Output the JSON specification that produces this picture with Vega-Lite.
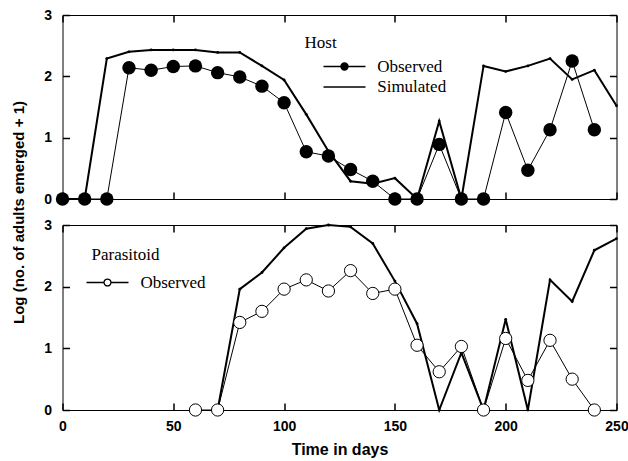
{
  "$schema": "https://vega.github.io/schema/vega-lite/v6.json",
  "background": "white",
  "padding": {"left": 10.5, "top": 7, "right": 8, "bottom": 4},
  "spacing": 26,
  "bounds": "flush",
  "resolve": {"scale": {"shape": "independent"}, "legend": {"shape": "independent"}},
  "datasets": {
    "host": [
      {"day": 0, "value": 0, "series": "Observed"},
      {"day": 10, "value": 0, "series": "Observed"},
      {"day": 20, "value": 0, "series": "Observed"},
      {"day": 30, "value": 2.14, "series": "Observed"},
      {"day": 40, "value": 2.10, "series": "Observed"},
      {"day": 50, "value": 2.16, "series": "Observed"},
      {"day": 60, "value": 2.17, "series": "Observed"},
      {"day": 70, "value": 2.06, "series": "Observed"},
      {"day": 80, "value": 1.99, "series": "Observed"},
      {"day": 90, "value": 1.84, "series": "Observed"},
      {"day": 100, "value": 1.57, "series": "Observed"},
      {"day": 110, "value": 0.77, "series": "Observed"},
      {"day": 120, "value": 0.70, "series": "Observed"},
      {"day": 130, "value": 0.48, "series": "Observed"},
      {"day": 140, "value": 0.29, "series": "Observed"},
      {"day": 150, "value": 0, "series": "Observed"},
      {"day": 160, "value": 0, "series": "Observed"},
      {"day": 170, "value": 0.89, "series": "Observed"},
      {"day": 180, "value": 0, "series": "Observed"},
      {"day": 190, "value": 0, "series": "Observed"},
      {"day": 200, "value": 1.41, "series": "Observed"},
      {"day": 210, "value": 0.47, "series": "Observed"},
      {"day": 220, "value": 1.13, "series": "Observed"},
      {"day": 230, "value": 2.25, "series": "Observed"},
      {"day": 240, "value": 1.13, "series": "Observed"},
      {"day": 0, "value": 0, "series": "Simulated"},
      {"day": 10, "value": 0, "series": "Simulated"},
      {"day": 20, "value": 2.29, "series": "Simulated"},
      {"day": 30, "value": 2.40, "series": "Simulated"},
      {"day": 40, "value": 2.43, "series": "Simulated"},
      {"day": 50, "value": 2.43, "series": "Simulated"},
      {"day": 60, "value": 2.43, "series": "Simulated"},
      {"day": 70, "value": 2.39, "series": "Simulated"},
      {"day": 80, "value": 2.39, "series": "Simulated"},
      {"day": 90, "value": 2.17, "series": "Simulated"},
      {"day": 100, "value": 1.94, "series": "Simulated"},
      {"day": 110, "value": 1.38, "series": "Simulated"},
      {"day": 120, "value": 0.78, "series": "Simulated"},
      {"day": 130, "value": 0.29, "series": "Simulated"},
      {"day": 140, "value": 0.25, "series": "Simulated"},
      {"day": 150, "value": 0.34, "series": "Simulated"},
      {"day": 160, "value": 0, "series": "Simulated"},
      {"day": 170, "value": 1.27, "series": "Simulated"},
      {"day": 180, "value": 0, "series": "Simulated"},
      {"day": 190, "value": 2.17, "series": "Simulated"},
      {"day": 200, "value": 2.08, "series": "Simulated"},
      {"day": 210, "value": 2.17, "series": "Simulated"},
      {"day": 220, "value": 2.29, "series": "Simulated"},
      {"day": 230, "value": 1.95, "series": "Simulated"},
      {"day": 240, "value": 2.10, "series": "Simulated"},
      {"day": 250, "value": 1.52, "series": "Simulated"}
    ],
    "para": [
      {"day": 60, "value": 0, "series": "Observed"},
      {"day": 70, "value": 0, "series": "Observed"},
      {"day": 80, "value": 1.42, "series": "Observed"},
      {"day": 90, "value": 1.60, "series": "Observed"},
      {"day": 100, "value": 1.96, "series": "Observed"},
      {"day": 110, "value": 2.11, "series": "Observed"},
      {"day": 120, "value": 1.93, "series": "Observed"},
      {"day": 130, "value": 2.26, "series": "Observed"},
      {"day": 140, "value": 1.89, "series": "Observed"},
      {"day": 150, "value": 1.96, "series": "Observed"},
      {"day": 160, "value": 1.05, "series": "Observed"},
      {"day": 170, "value": 0.62, "series": "Observed"},
      {"day": 180, "value": 1.03, "series": "Observed"},
      {"day": 190, "value": 0, "series": "Observed"},
      {"day": 200, "value": 1.16, "series": "Observed"},
      {"day": 210, "value": 0.48, "series": "Observed"},
      {"day": 220, "value": 1.13, "series": "Observed"},
      {"day": 230, "value": 0.50, "series": "Observed"},
      {"day": 240, "value": 0, "series": "Observed"},
      {"day": 70, "value": 0, "series": "Simulated"},
      {"day": 80, "value": 1.96, "series": "Simulated"},
      {"day": 90, "value": 2.23, "series": "Simulated"},
      {"day": 100, "value": 2.63, "series": "Simulated"},
      {"day": 110, "value": 2.94, "series": "Simulated"},
      {"day": 120, "value": 3.0, "series": "Simulated"},
      {"day": 130, "value": 2.97, "series": "Simulated"},
      {"day": 140, "value": 2.70, "series": "Simulated"},
      {"day": 150, "value": 2.09, "series": "Simulated"},
      {"day": 160, "value": 1.40, "series": "Simulated"},
      {"day": 170, "value": 0, "series": "Simulated"},
      {"day": 180, "value": 0.93, "series": "Simulated"},
      {"day": 190, "value": 0, "series": "Simulated"},
      {"day": 200, "value": 1.47, "series": "Simulated"},
      {"day": 210, "value": 0, "series": "Simulated"},
      {"day": 220, "value": 2.11, "series": "Simulated"},
      {"day": 230, "value": 1.76, "series": "Simulated"},
      {"day": 240, "value": 2.59, "series": "Simulated"},
      {"day": 250, "value": 2.78, "series": "Simulated"}
    ]
  },
  "config": {
    "view": {"stroke": "black", "strokeWidth": 1},
    "axis": {
      "domain": false,
      "grid": false,
      "ticks": true,
      "tickSize": 7,
      "tickColor": "#000000",
      "tickWidth": 1.5,
      "tickOpacity": 1,
      "labelFont": "Liberation Sans",
      "labelFontWeight": "bold",
      "labelFontSize": 14,
      "labelColor": "black",
      "titleFont": "Liberation Sans",
      "titleFontWeight": "bold",
      "titleFontSize": 15,
      "titleColor": "black",
      "labelFlush": false,
      "labelOverlap": false
    },
    "legend": {
      "labelFont": "Liberation Serif",
      "labelFontSize": 17,
      "labelColor": "black",
      "titleFont": "Liberation Serif",
      "titleFontSize": 17,
      "titleFontWeight": "normal",
      "titleColor": "black",
      "padding": 0,
      "symbolSize": 441,
      "symbolOpacity": 1,
      "symbolStrokeColor": "black",
      "symbolStrokeWidth": 1.3
    }
  },
  "vconcat": [
    {
      "width": 554,
      "height": 184,
      "data": {"name": "host"},
      "layer": [
        {
          "transform": [{"filter": "datum.series === 'Simulated'"}],
          "mark": {"type": "line", "color": "black", "strokeWidth": 2, "clip": false, "point": {"filled": true, "size": 8, "color": "black", "opacity": 1}},
          "encoding": {
            "x": {"field": "day", "type": "quantitative", "scale": {"domain": [0, 250], "nice": false, "zero": false},
                  "axis": {"values": [0, 50, 100, 150, 200, 250], "labels": false, "title": null, "offset": -7}},
            "y": {"field": "value", "type": "quantitative", "scale": {"domain": [0, 3], "nice": false},
                  "axis": {"values": [0, 1, 2, 3], "labelPadding": 11, "title": "Log (no. of adults emerged + 1)", "titleY": 197, "titlePadding": 17.5, "offset": -7}}
          }
        },
        {
          "transform": [{"filter": "datum.series === 'Observed'"}],
          "mark": {"type": "line", "color": "black", "strokeWidth": 1, "clip": false},
          "encoding": {
            "x": {"field": "day", "type": "quantitative", "axis": {"orient": "top", "values": [0, 50, 100, 150, 200, 250], "labels": false, "title": null, "offset": -7}},
            "y": {"field": "value", "type": "quantitative", "axis": {"orient": "right", "values": [0, 1, 2, 3], "labels": false, "title": null, "offset": -7}}
          }
        },
        {
          "transform": [{"filter": "datum.series === 'Observed'"}],
          "mark": {"type": "point", "shape": "circle", "filled": true, "color": "black", "size": 180, "opacity": 1, "clip": false},
          "encoding": {
            "x": {"field": "day", "type": "quantitative", "axis": null},
            "y": {"field": "value", "type": "quantitative", "axis": null}
          }
        },
        {
          "mark": {"type": "point", "filled": false, "color": "black", "strokeWidth": 1.3, "opacity": 0},
          "encoding": {
            "x": {"field": "day", "type": "quantitative", "axis": null},
            "y": {"field": "value", "type": "quantitative", "axis": null},
            "shape": {
              "field": "series", "type": "nominal",
              "scale": {"domain": ["Observed", "Simulated"], "range": ["M-2,0H2M0.34,0A0.34,0.34 0 1,1 -0.34,0A0.34,0.34 0 1,1 0.34,0M0.22,0A0.22,0.22 0 1,1 -0.22,0A0.22,0.22 0 1,1 0.22,0M0.1,0A0.1,0.1 0 1,1 -0.1,0A0.1,0.1 0 1,1 0.1,0M0.03,0A0.03,0.03 0 1,1 -0.03,0A0.03,0.03 0 1,1 0.03,0", "M-2,0H2"]},
              "legend": {
                "title": "Host", "orient": "none", "legendX": 242, "legendY": 20,
                "symbolOffset": 28.5, "labelOffset": 21.2, "rowPadding": 0.5, "titlePadding": 3
              }
            }
          }
        }
      ],
      "resolve": {"axis": {"x": "independent", "y": "independent"}}
    },
    {
      "width": 554,
      "height": 185,
      "data": {"name": "para"},
      "layer": [
        {
          "transform": [{"filter": "datum.series === 'Simulated'"}],
          "mark": {"type": "line", "color": "black", "strokeWidth": 2, "clip": false, "point": {"filled": true, "size": 8, "color": "black", "opacity": 1}},
          "encoding": {
            "x": {"field": "day", "type": "quantitative", "scale": {"domain": [0, 250], "nice": false, "zero": false},
                  "axis": {"values": [0, 50, 100, 150, 200, 250], "labelPadding": 9, "title": "Time in days", "titleFontSize": 16, "titlePadding": 8, "offset": -7}},
            "y": {"field": "value", "type": "quantitative", "scale": {"domain": [0, 3], "nice": false},
                  "axis": {"values": [0, 1, 2, 3], "labelPadding": 11, "title": null, "offset": -7}}
          }
        },
        {
          "transform": [{"filter": "datum.series === 'Observed'"}],
          "mark": {"type": "line", "color": "black", "strokeWidth": 1, "clip": false},
          "encoding": {
            "x": {"field": "day", "type": "quantitative", "axis": {"orient": "top", "values": [0, 50, 100, 150, 200, 250], "labels": false, "title": null, "offset": -7}},
            "y": {"field": "value", "type": "quantitative", "axis": {"orient": "right", "values": [0, 1, 2, 3], "labels": false, "title": null, "offset": -7}}
          }
        },
        {
          "transform": [{"filter": "datum.series === 'Observed'"}],
          "mark": {"type": "point", "shape": "circle", "filled": false, "fill": "white", "stroke": "black", "strokeWidth": 1, "size": 150, "opacity": 1, "clip": false},
          "encoding": {
            "x": {"field": "day", "type": "quantitative", "axis": null},
            "y": {"field": "value", "type": "quantitative", "axis": null}
          }
        },
        {
          "transform": [{"filter": "datum.series === 'Observed'"}],
          "mark": {"type": "point", "filled": false, "color": "black", "strokeWidth": 1.3, "opacity": 0},
          "encoding": {
            "x": {"field": "day", "type": "quantitative", "axis": null},
            "y": {"field": "value", "type": "quantitative", "axis": null},
            "shape": {
              "field": "series", "type": "nominal",
              "scale": {"domain": ["Observed"], "range": ["M-2,0H-0.33M0.33,0H2M0.33,0A0.33,0.33 0 1,1 -0.33,0A0.33,0.33 0 1,1 0.33,0"]},
              "legend": {
                "title": "Parasitoid", "orient": "none", "legendX": 29, "legendY": 22,
                "symbolOffset": 4.5, "labelOffset": 21.4, "titlePadding": 7
              }
            }
          }
        }
      ],
      "resolve": {"axis": {"x": "independent", "y": "independent"}}
    }
  ]
}
